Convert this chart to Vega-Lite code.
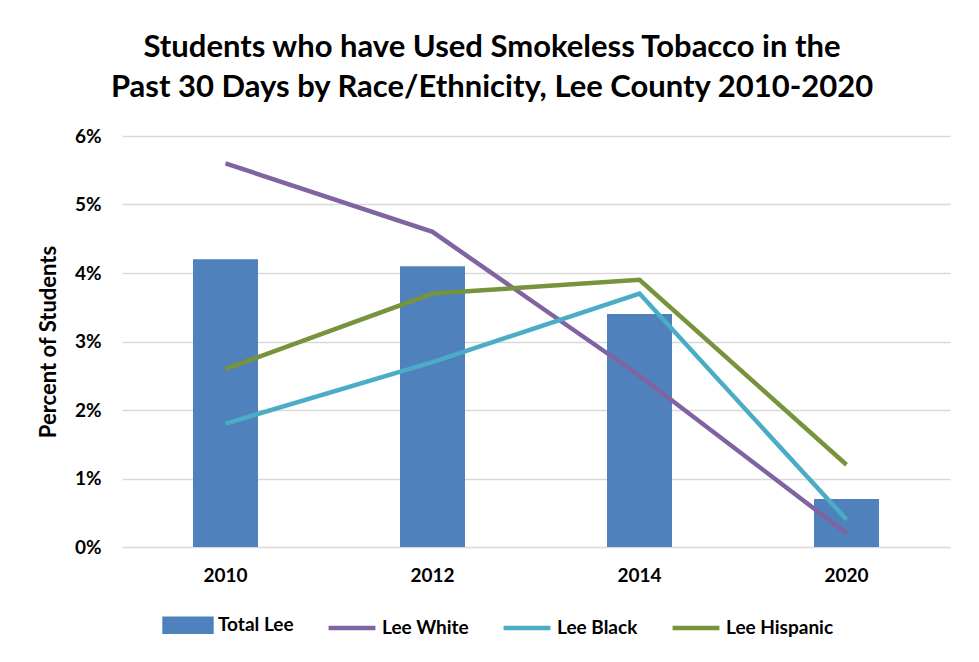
{
  "$schema": "https://vega.github.io/schema/vega-lite/v6.json",
  "width": 828,
  "height": 411,
  "autosize": "none",
  "padding": {"left": 122, "top": 136, "right": 29, "bottom": 115},
  "background": "white",
  "title": {
    "text": ["Students who have Used Smokeless Tobacco in the", "Past 30 Days by Race/Ethnicity, Lee County 2010-2020"],
    "font": "Lato",
    "fontSize": 31,
    "fontWeight": "bold",
    "color": "#000000",
    "lineHeight": 40,
    "anchor": "middle",
    "frame": "group",
    "dx": -44,
    "offset": 23
  },
  "data": {
    "values": [
      {"year": "2010", "series": "Total Lee", "value": 4.2},
      {"year": "2012", "series": "Total Lee", "value": 4.1},
      {"year": "2014", "series": "Total Lee", "value": 3.4},
      {"year": "2020", "series": "Total Lee", "value": 0.7},
      {"year": "2010", "series": "Lee White", "value": 5.6},
      {"year": "2012", "series": "Lee White", "value": 4.6},
      {"year": "2014", "series": "Lee White", "value": 2.5},
      {"year": "2020", "series": "Lee White", "value": 0.2},
      {"year": "2010", "series": "Lee Black", "value": 1.8},
      {"year": "2012", "series": "Lee Black", "value": 2.7},
      {"year": "2014", "series": "Lee Black", "value": 3.7},
      {"year": "2020", "series": "Lee Black", "value": 0.4},
      {"year": "2010", "series": "Lee Hispanic", "value": 2.6},
      {"year": "2012", "series": "Lee Hispanic", "value": 3.7},
      {"year": "2014", "series": "Lee Hispanic", "value": 3.9},
      {"year": "2020", "series": "Lee Hispanic", "value": 1.2}
    ]
  },
  "encoding": {
    "x": {
      "field": "year",
      "type": "ordinal",
      "scale": {"paddingInner": 0.686, "paddingOuter": 0.343},
      "axis": {
        "title": null,
        "labelAngle": 0,
        "labelFont": "Lato",
        "labelFontSize": 19,
        "labelFontWeight": "bold",
        "labelColor": "#000000",
        "labelPadding": 19,
        "ticks": false,
        "domain": false
      }
    },
    "y": {
      "field": "value",
      "type": "quantitative",
      "scale": {"domain": [0, 6], "nice": false},
      "axis": {
        "title": "Percent of Students",
        "titleFont": "Lato",
        "titleFontSize": 22,
        "titleFontWeight": "bold",
        "titleColor": "#000000",
        "titlePadding": 14,
        "values": [0, 1, 2, 3, 4, 5, 6],
        "labelExpr": "datum.value + '%'",
        "labelFont": "Lato",
        "labelFontSize": 19,
        "labelFontWeight": "bold",
        "labelColor": "#000000",
        "labelPadding": 21,
        "ticks": false,
        "domain": false,
        "grid": true,
        "gridColor": "#d9d9d9",
        "gridWidth": 1.5
      }
    },
    "color": {
      "field": "series",
      "type": "nominal",
      "scale": {
        "domain": ["Total Lee", "Lee White", "Lee Black", "Lee Hispanic"],
        "range": ["#4f81bd", "#8064a2", "#4bacc6", "#77933c"]
      },
      "legend": {
        "title": null,
        "orient": "none",
        "direction": "horizontal",
        "legendX": 40,
        "legendY": 463,
        "symbolSize": 2200,
        "symbolType": "stroke",
        "symbolStrokeWidth": 4,
        "labelFont": "Lato",
        "labelFontSize": 19,
        "labelFontWeight": "bold",
        "labelColor": "#000000",
        "labelOffset": 4,
        "columnPadding": 25,
        "encode": {
          "symbols": {
            "update": {
              "shape": {"signal": "datum.value === 'Total Lee' ? 'M-1,-0.28H1V0.28H-1Z' : 'stroke'"},
              "fill": {"signal": "datum.value === 'Total Lee' ? '#4f81bd' : 'transparent'"},
              "stroke": {"signal": "datum.value === 'Total Lee' ? 'transparent' : (datum.value === 'Lee White' ? '#8064a2' : (datum.value === 'Lee Black' ? '#4bacc6' : '#77933c'))"},
              "strokeWidth": {"value": 4.5},
              "opacity": {"value": 1}
            }
          }
        }
      }
    }
  },
  "layer": [
    {
      "transform": [{"filter": "datum.series === 'Total Lee'"}],
      "mark": {"type": "bar"}
    },
    {
      "transform": [{"filter": "datum.series !== 'Total Lee'"}],
      "mark": {"type": "line", "strokeWidth": 4.5}
    }
  ],
  "config": {
    "view": {"stroke": null}
  }
}
